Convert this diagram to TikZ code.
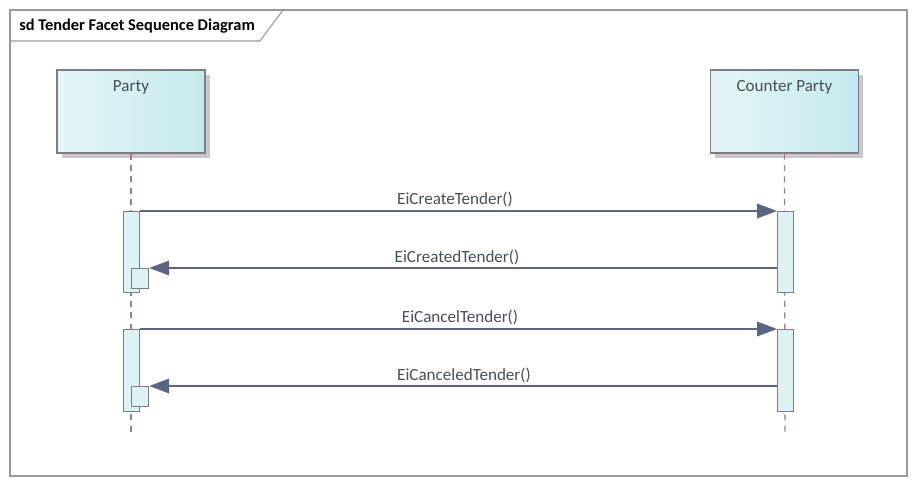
\documentclass[tikz,border=0pt]{standalone}
\usepackage{fontspec}
\setmainfont{Carlito}
\usetikzlibrary{arrows.meta,shadows}
\definecolor{boxL}{HTML}{E6F5F7}
\definecolor{boxR}{HTML}{C4EAEE}
\definecolor{edge}{HTML}{7C7C84}
\definecolor{shade}{HTML}{CAC6CA}
\definecolor{msg}{HTML}{5B6582}
\definecolor{life}{HTML}{9C7C86}
\definecolor{txt}{HTML}{454F5A}
\definecolor{act}{HTML}{DDF2F4}
\definecolor{frame}{HTML}{9A9A9A}
\tikzset{
  lifebox/.style={draw=edge, line width=0.9pt, left color=boxL, right color=boxR, minimum width=148*0.75pt, minimum height=83*0.75pt, inner sep=0pt,
    drop shadow={shadow xshift=4.5*0.75pt, shadow yshift=-4.5*0.75pt, fill=shade, opacity=1}},
  lifeline/.style={draw=life, line width=0.9pt, dash pattern=on 4.5pt off 4pt},
  actbox/.style={draw=edge, line width=0.9pt, fill=act, minimum width=16*0.75pt, inner sep=0pt},
  msgline/.style={draw=msg, line width=1pt, -{Triangle[length=15pt,width=11pt]}},
  lbl/.style={text=txt, font=\fontsize{12.8}{14}\selectfont, inner sep=0pt}
}
\begin{document}
\begin{tikzpicture}[x=0.75pt,y=-0.75pt]
\useasboundingbox (0,0) rectangle (917,486);
% frame
\draw[frame, line width=0.8pt] (10,10) rectangle (907,476);
\draw[frame, line width=0.8pt] (10,41) -- (260,41) -- (283,10);
\node[anchor=west, text=black, font=\bfseries\fontsize{12.3}{14}\selectfont, inner sep=0pt] (title) at (19,26) {sd Tender Facet Sequence Diagram};
% lifeline heads
\node[lifebox] (party) at (131,111.5) {};
\node[lifebox] (cparty) at (784.5,111.5) {};
\node[lbl, anchor=center] (partyT) at (131,87) {Party};
\node[lbl, anchor=center] (cpartyT) at (784.5,87) {Counter Party};
% lifelines
\coordinate (pend) at (131,434);
\coordinate (cend) at (785,434);
\draw[lifeline] (party.south) -- (pend);
\draw[lifeline] (cparty.south) -- (cend);
% activations
\node[actbox, minimum height=81*0.75pt, anchor=north west] (pa1) at (123,211) {};
\node[actbox, minimum height=81*0.75pt, anchor=north west] (ca1) at (777,211) {};
\node[actbox, minimum height=20*0.75pt, minimum width=17*0.75pt, anchor=north west] (ps1) at (131,268) {};
\node[actbox, minimum height=82*0.75pt, anchor=north west] (pa2) at (123,329) {};
\node[actbox, minimum height=82*0.75pt, anchor=north west] (ca2) at (777,329) {};
\node[actbox, minimum height=20*0.75pt, minimum width=17*0.75pt, anchor=north west] (ps2) at (131,386) {};
% messages
\draw[msgline] (pa1.north east) -- (ca1.north west);
\draw[msgline] (ca1.west |- ps1.north) -- (ps1.north east);
\draw[msgline] (pa2.north east) -- (ca2.north west);
\draw[msgline] (ca2.west |- ps2.north) -- (ps2.north east);
% labels
\node[lbl] (m1) at (455,199) {EiCreateTender()};
\node[lbl] (m2) at (457,257) {EiCreatedTender()};
\node[lbl] (m3) at (460,317) {EiCancelTender()};
\node[lbl] (m4) at (464,375) {EiCanceledTender()};
\end{tikzpicture}
\end{document}
